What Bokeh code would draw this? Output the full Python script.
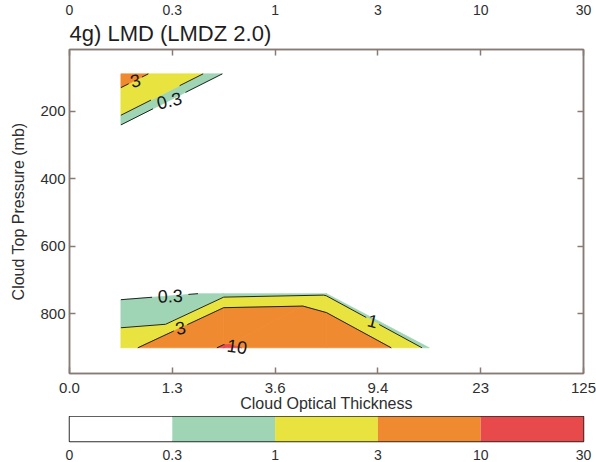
import math

from bokeh.core.properties import value
from bokeh.embed import file_html
from bokeh.layouts import column
from bokeh.models import ColumnDataSource, FixedTicker, LinearAxis, Range1d, Title
from bokeh.plotting import figure
from bokeh.resources import INLINE

# ---------------------------------------------------------------------------
# Cloud amount (%) by optical-thickness bin (columns) and cloud-top-pressure
# bin (rows, top of atmosphere first).
# ---------------------------------------------------------------------------
tau_bounds = ["0.0", "1.3", "3.6", "9.4", "23", "125"]
ctp_rows = [90, 245, 375, 500, 620, 740, 900]          # mb, bin centres
cloud_amount = [
    [4.0, 0.25, 0.0, 0.0, 0.0],
    [0.2, 0.0, 0.0, 0.0, 0.0],
    [0.0, 0.0, 0.0, 0.0, 0.0],
    [0.0, 0.0, 0.0, 0.0, 0.0],
    [0.0, 0.0, 0.0, 0.0, 0.0],
    [0.15, 0.35, 0.74, 0.0, 0.0],
    [1.5, 10.6, 7.2, 0.53, 0.0],
]
levels = [0, 0.3, 1, 3, 10, 30]
level_labels = ["0", "0.3", "1", "3", "10", "30"]
band_colors = ["#ffffff", "#9fd5b5", "#e8e33f", "#ef8a31", "#e8494a"]
pressure_ticks = [200, 400, 600, 800]

# contour labels: (level, x position along the line, pressure hint to pick the line)
label_spots = [(3, 0.64, 100), (0.3, 0.97, 100), (0.3, 0.98, 800),
               (3, 1.08, 800), (10, 1.63, 900), (1, 2.95, 850)]
LABEL_TILT = 0.5      # labels turn half-way towards the direction of their line

FONT = "Liberation Sans"
FRAME = "#867b75"
TEXT = "#2e2e2e"
LINE = "#1f2622"

W, H = 596, 416
BL, BR, BT, BB = 69, 13, 49, 43
X0, X1 = 0, len(tau_bounds) - 1
Y_TOP, Y_BOT = 18, 976
sx = (W - BL - BR) / (X1 - X0)
sy = (H - BT - BB) / (Y_BOT - Y_TOP)


def to_px(x, y):
    return (x - X0) * sx, (y - Y_TOP) * sy


# ---------------------------------------------------------------------------
# Triangulate the grid over the bins that hold cloud, then contour each
# triangle with linear interpolation.
# ---------------------------------------------------------------------------
ncol = len(tau_bounds) - 1
nrow = len(ctp_rows)


def node(r, c):
    return (c + 0.5, ctp_rows[r], cloud_amount[r][c])


triangles = []
for r in range(nrow - 1):
    for c in range(ncol - 1):
        tl, tr, bl, br = node(r, c), node(r, c + 1), node(r + 1, c), node(r + 1, c + 1)
        filled = [n for n in (tl, tr, bl, br) if n[2] > 0]
        if len(filled) == 4:
            triangles += [(tl, tr, bl), (tr, br, bl)]
        elif len(filled) == 3:
            triangles.append(tuple(filled))


def crossing(p, q, lev):
    t = (lev - p[2]) / (q[2] - p[2])
    return (p[0] + t * (q[0] - p[0]), p[1] + t * (q[1] - p[1]), lev)


def clip(poly, lev, above):
    out = []
    for k in range(len(poly)):
        p, q = poly[k - 1], poly[k]
        pin = p[2] >= lev if above else p[2] <= lev
        qin = q[2] >= lev if above else q[2] <= lev
        if qin:
            if not pin:
                out.append(crossing(p, q, lev))
            out.append(q)
        elif pin:
            out.append(crossing(p, q, lev))
    return out


band_xs, band_ys, band_fill = [], [], []
for k in range(1, len(levels) - 1):
    for tri in triangles:
        poly = clip(clip(list(tri), levels[k], True), levels[k + 1], False)
        if len(poly) >= 3:
            band_xs.append([v[0] for v in poly])
            band_ys.append([v[1] for v in poly])
            band_fill.append(band_colors[k])

segments = {}
for lev in levels[1:-1]:
    segs = []
    for tri in triangles:
        pts = []
        for a, b in ((tri[0], tri[1]), (tri[1], tri[2]), (tri[2], tri[0])):
            if (a[2] - lev) * (b[2] - lev) < 0:
                pts.append(crossing(a, b, lev))
        if len(pts) == 2:
            segs.append(((pts[0][0], pts[0][1]), (pts[1][0], pts[1][1])))
    segments[lev] = segs


def fmt(lev):
    return level_labels[levels.index(lev)]


# place each label on its contour, turned towards the line direction
lab_x, lab_y, lab_text, lab_angle, gaps = [], [], [], [], []
LABEL_SIZE = 18
for lev, xa, yhint in label_spots:
    best = None
    for (ax, ay), (bx, by) in segments[lev]:
        if min(ax, bx) <= xa <= max(ax, bx) and ax != bx:
            ya = ay + (xa - ax) / (bx - ax) * (by - ay)
            if best is None or abs(ya - yhint) < abs(best[1] - yhint):
                best = (xa, ya, (ax, ay), (bx, by))
    if best is None:
        continue
    xa, ya, a, b = best
    pa, pb = to_px(*a), to_px(*b)
    ang = -math.atan2(pb[1] - pa[1], pb[0] - pa[0])
    if ang > math.pi / 2:
        ang -= math.pi
    if ang < -math.pi / 2:
        ang += math.pi
    txt = fmt(lev)
    lab_x.append(xa)
    lab_y.append(ya)
    lab_text.append(txt)
    lab_angle.append(ang * LABEL_TILT)
    gaps.append((to_px(xa, ya), 0.3 * LABEL_SIZE * len(txt) + 2))


def cut(seg):
    """Split a segment so that it leaves a gap around every label."""
    pieces = [(0.0, 1.0)]
    pa, pb = to_px(*seg[0]), to_px(*seg[1])
    dx, dy = pb[0] - pa[0], pb[1] - pa[1]
    for (cx, cy), rad in gaps:
        fx, fy = pa[0] - cx, pa[1] - cy
        A = dx * dx + dy * dy
        B = 2 * (fx * dx + fy * dy)
        C = fx * fx + fy * fy - rad * rad
        disc = B * B - 4 * A * C
        if A == 0 or disc <= 0:
            continue
        t0 = (-B - math.sqrt(disc)) / (2 * A)
        t1 = (-B + math.sqrt(disc)) / (2 * A)
        new = []
        for s, e in pieces:
            if t1 <= s or t0 >= e:
                new.append((s, e))
                continue
            if t0 > s:
                new.append((s, t0))
            if t1 < e:
                new.append((t1, e))
        pieces = new
    (ax, ay), (bx, by) = seg
    return [([ax + s * (bx - ax), ax + e * (bx - ax)],
             [ay + s * (by - ay), ay + e * (by - ay)]) for s, e in pieces]


line_xs, line_ys = [], []
for lev, segs in segments.items():
    for seg in segs:
        for xs, ys in cut(seg):
            line_xs.append(xs)
            line_ys.append(ys)

# ---------------------------------------------------------------------------
# Main panel
# ---------------------------------------------------------------------------
p = figure(width=W, height=H, x_range=Range1d(X0, X1), y_range=Range1d(Y_BOT, Y_TOP),
           output_backend="svg", toolbar_location=None, title=None,
           min_border_left=BL, min_border_right=BR, min_border_top=BT, min_border_bottom=BB,
           background_fill_color="white", border_fill_color="white")
p.xgrid.visible = False
p.ygrid.visible = False
p.outline_line_color = FRAME
p.outline_line_width = 1.5

p.patches(xs=band_xs, ys=band_ys, fill_color=band_fill, line_color=band_fill, line_width=0.7)
p.multi_line(xs=line_xs, ys=line_ys, line_color=LINE, line_width=1)
p.text(x="x", y="y", text="text", angle="angle",
       source=ColumnDataSource(dict(x=lab_x, y=lab_y, text=lab_text, angle=lab_angle)),
       text_font=value(FONT), text_font_size=f"{LABEL_SIZE}px", text_color="#161616",
       text_align="center", text_baseline="middle")


def style_axis(ax, ticks, labels=None):
    ax.ticker = FixedTicker(ticks=ticks)
    ax.axis_line_color = FRAME
    ax.axis_line_width = 1.5
    ax.major_tick_line_color = FRAME
    ax.major_tick_line_width = 1.5
    ax.major_tick_in = 6
    ax.major_tick_out = 0
    ax.minor_tick_line_color = None
    ax.major_label_text_font = FONT
    ax.major_label_text_color = TEXT
    if labels is not None:
        ax.major_label_overrides = {t: s for t, s in zip(ticks, labels)}


tau_ticks = list(range(len(tau_bounds)))

xax = p.xaxis[0]
style_axis(xax, tau_ticks, tau_bounds)
xax.major_label_text_font_size = "15px"
xax.major_label_standoff = 9
xax.axis_label = "Cloud Optical Thickness"
xax.axis_label_text_font = FONT
xax.axis_label_text_font_style = "normal"
xax.axis_label_text_font_size = "16px"
xax.axis_label_text_color = TEXT
xax.axis_label_standoff = -1

yax = p.yaxis[0]
style_axis(yax, pressure_ticks)
yax.major_label_text_font_size = "15px"
yax.major_label_standoff = 4
yax.axis_label = "Cloud Top Pressure (mb)"
yax.axis_label_text_font = FONT
yax.axis_label_text_font_style = "normal"
yax.axis_label_text_font_size = "16px"
yax.axis_label_text_color = TEXT
yax.axis_label_standoff = 10

# tick marks only on the right and top edges of the frame
right = LinearAxis()
style_axis(right, pressure_ticks, ["" for _ in pressure_ticks])
right.major_label_text_font_size = "1px"
right.major_label_standoff = 0
p.add_layout(right, "right")

top_ticks = LinearAxis()
style_axis(top_ticks, tau_ticks, ["" for _ in tau_ticks])
top_ticks.major_label_text_font_size = "1px"
top_ticks.major_label_standoff = 0
p.add_layout(top_ticks, "above")

p.add_layout(Title(text="4g) LMD (LMDZ 2.0)", align="left", text_font=FONT,
                   text_font_size="22px", text_font_style="normal", text_color="#1e1e1e",
                   standoff=7), "above")

top_labels = LinearAxis(ticker=FixedTicker(ticks=tau_ticks))
top_labels.major_label_overrides = {i: t for i, t in enumerate(level_labels)}
top_labels.axis_line_color = None
top_labels.major_tick_line_color = None
top_labels.minor_tick_line_color = None
top_labels.major_label_text_font = FONT
top_labels.major_label_text_font_size = "14px"
top_labels.major_label_text_color = TEXT
top_labels.major_label_standoff = -5
p.add_layout(top_labels, "above")

# ---------------------------------------------------------------------------
# Colour key
# ---------------------------------------------------------------------------
key = figure(width=W, height=462 - H, x_range=Range1d(X0, X1), y_range=Range1d(0, 1),
             output_backend="svg", toolbar_location=None, title=None,
             min_border_left=BL, min_border_right=BR, min_border_top=0, min_border_bottom=19,
             background_fill_color="white", border_fill_color="white")
key.xgrid.visible = False
key.ygrid.visible = False
key.yaxis.visible = False
key.outline_line_color = "#2d2d2d"
key.outline_line_width = 1.5
key_src = ColumnDataSource(dict(left=list(range(len(band_colors))),
                                right=list(range(1, len(band_colors) + 1)),
                                color=band_colors))
key.quad(left="left", right="right", bottom=0, top=1, fill_color="color",
         line_color=None, source=key_src)
kax = key.xaxis[0]
kax.ticker = FixedTicker(ticks=list(range(len(level_labels))))
kax.major_label_overrides = {i: t for i, t in enumerate(level_labels)}
kax.axis_line_color = None
kax.major_tick_line_color = None
kax.minor_tick_line_color = None
kax.major_label_text_font = FONT
kax.major_label_text_font_size = "14px"
kax.major_label_text_color = TEXT
kax.major_label_standoff = 2

layout = column(p, key, spacing=0)
open("out.html", "w").write(file_html(layout, INLINE))
